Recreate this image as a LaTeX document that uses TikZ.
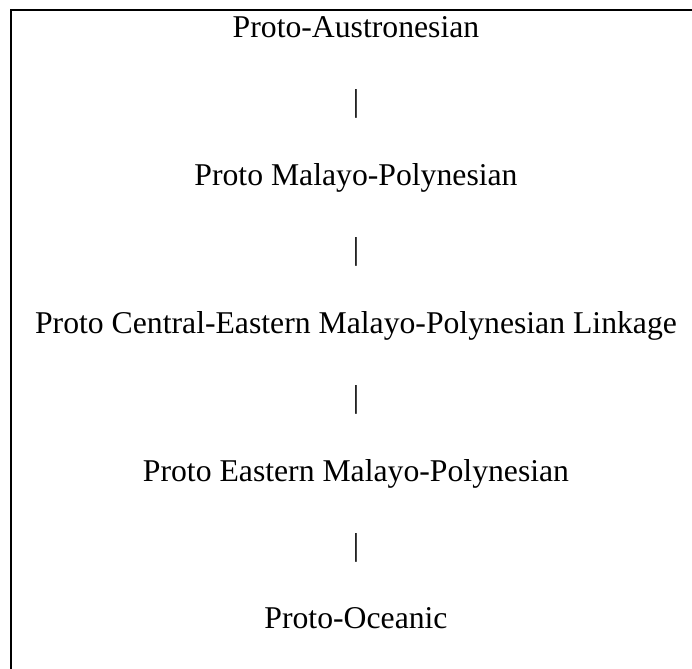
\documentclass[tikz,border=0pt]{standalone}
\usepackage{fontspec}
\setmainfont{Liberation Serif}
\begin{document}
\begin{tikzpicture}[x=1pt,y=1pt,
  lbl/.style={anchor=base,inner sep=0pt,font=\fontsize{31.7}{38}\selectfont},
  frame/.style={line width=2pt,line cap=rect}]
\useasboundingbox (0,0) rectangle (692,668);
\draw[frame] (11,0) -- (11,658) -- (692,658);
\def\bl#1{\fpeval{668-38-#1*73.875}}
\node[lbl] (t0) at (356,{668-38}) {Proto-Austronesian};
\node[lbl] (b0) at (356,{668-38-73.875}) {|};
\node[lbl] (t1) at (356,{668-38-2*73.875}) {Proto Malayo-Polynesian};
\node[lbl] (b1) at (356,{668-38-3*73.875}) {|};
\node[lbl] (t2) at (356,{668-38-4*73.875}) {Proto Central-Eastern Malayo-Polynesian Linkage};
\node[lbl] (b2) at (356,{668-38-5*73.875}) {|};
\node[lbl] (t3) at (356,{668-38-6*73.875}) {Proto Eastern Malayo-Polynesian};
\node[lbl] (b3) at (356,{668-38-7*73.875}) {|};
\node[lbl] (t4) at (356,{668-38-8*73.875}) {Proto-Oceanic};
\end{tikzpicture}
\end{document}
